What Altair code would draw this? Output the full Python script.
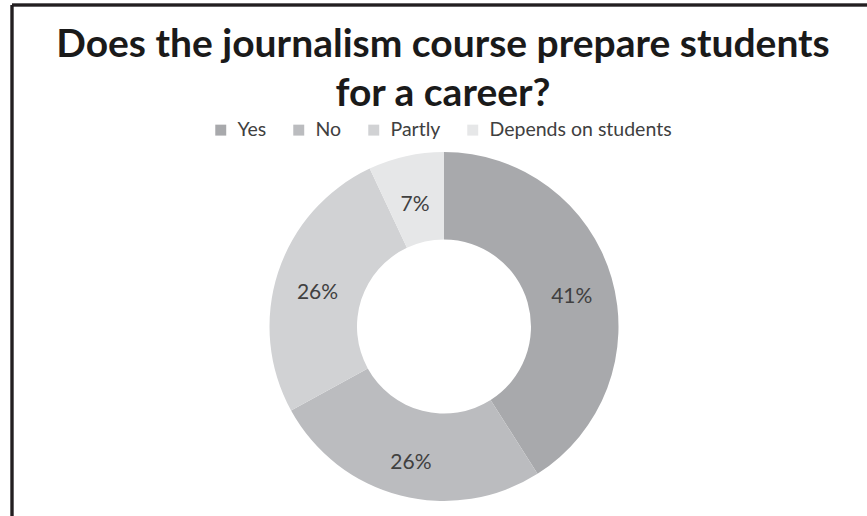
import altair as alt
import pandas as pd

categories = ["Yes", "No", "Partly", "Depends on students"]
values = [41, 26, 26, 7]
labels = ["41%", "26%", "26%", "7%"]
colors = ["#a8a9ac", "#bbbcbf", "#d1d2d4", "#e6e7e8"]
title_lines = ["Does the journalism course prepare students", "for a career?"]

df = pd.DataFrame({
    "category": categories,
    "value": values,
    "label": labels,
    "order": list(range(len(categories))),
})
title_df = pd.DataFrame({"line": title_lines, "y": [45, 94]})

CX, CY = 444, 326.5
FONT = "Lato"

color = alt.Color(
    "category:N",
    scale=alt.Scale(domain=categories, range=colors),
    sort=categories,
    legend=alt.Legend(
        title=None,
        orient="none",
        legendX=211,
        legendY=120,
        direction="horizontal",
        symbolType="square",
        symbolSize=120,
        symbolStrokeWidth=0,
        labelFontSize=19.5,
        labelFont=FONT,
        labelColor="#404040",
        labelOffset=7,
        labelLimit=0,
        columnPadding=22,
    ),
)

base = alt.Chart(df).encode(
    theta=alt.Theta("value:Q", stack=True),
    order=alt.Order("order:Q"),
)

arcs = base.mark_arc(innerRadius=87, outerRadius=174.5, stroke=None).encode(
    color=color,
    x=alt.value(CX),
    y=alt.value(CY),
)

texts = base.mark_text(radius=133, fontSize=21, font=FONT, color="#404040", dy=8).encode(
    text="label:N",
    x=alt.value(CX),
    y=alt.value(CY),
)

title = alt.Chart(title_df).mark_text(
    fontSize=39, font=FONT, fontWeight="bold", color="#1a1a1a", baseline="middle"
).encode(
    text="line:N",
    x=alt.value(443),
    y=alt.Y("y:Q", scale=None),
)

frame_left = alt.Chart(df).mark_rule(color="#231f20", strokeWidth=2.5).encode(
    x=alt.value(12), y=alt.value(5), y2=alt.value(516)
)
frame_top = alt.Chart(df).mark_rule(color="#231f20", strokeWidth=2.5).encode(
    x=alt.value(12), x2=alt.value(867), y=alt.value(5)
)

chart = alt.layer(arcs, texts, title, frame_left, frame_top).properties(
    width=867, height=516, padding=0, autosize="none", background="white"
).configure_view(stroke=None)

chart.save("out.html", embed_options={"renderer": "svg", "actions": False})
